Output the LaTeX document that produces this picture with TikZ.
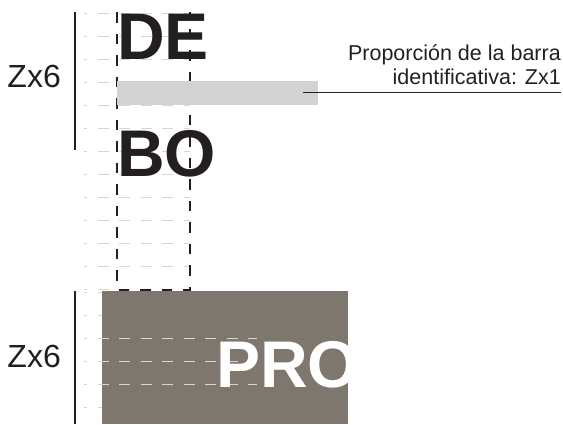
\documentclass[tikz,border=0pt]{standalone}
\usepackage{fontspec}
\setmainfont{Liberation Sans}
\usepackage{tikz}
\usetikzlibrary{positioning,calc}

\definecolor{barragris}{HTML}{D1D3D4}
\definecolor{pardo}{HTML}{7E776D}
\definecolor{guia}{HTML}{D6D6D6}
\definecolor{tinta}{HTML}{231F20}

\begin{document}
\begin{tikzpicture}[
    x=1pt, y=-1pt,
    guideline/.style={draw=guia, line width=1pt, dash pattern=on 11pt off 10.5pt, dash phase=8pt},
    frameline/.style={draw=tinta, line width=1.1pt, dash pattern=on 10.5pt off 11pt},
    rule/.style={draw=tinta, line width=1.2pt},
    word/.style={inner sep=0pt, anchor=base west, font=\fontsize{66}{66}\selectfont\bfseries, text=tinta},
    label/.style={inner sep=0pt, text=tinta, font=\fontsize{32}{32}\selectfont}
]
    \useasboundingbox (0,0) rectangle (563,424);

    % guide grid (upper block)
    \foreach \k in {0,...,12}
        \draw[guideline] (84,{13+23*\k}) -- (190,{13+23*\k});
    \draw[frameline] (117,12) -- (117,290) -- (190,290) -- (190,12);

    % identification bar
    \node[fill=barragris, inner sep=0pt, minimum width=201pt, minimum height=24pt, anchor=north west] (bar) at (117,81) {};
    \coordinate (barend) at (303,92);

    \node[word] (de) at (117,59) {DE};
    \node[word] (bo) at (117,176) {BO};

    % proportion note
    \node[inner sep=0pt, anchor=south east, align=right, text=tinta,
          font=\fontsize{21.5}{24}\selectfont] (note) at (561,85)
          {Proporción de la barra\\identificativa: Zx1};
    \draw[draw=tinta, line width=0.9pt] (barend) -- (barend -| note.east);

    % lower block
    \node[fill=pardo, inner sep=0pt, minimum width=246pt, minimum height=133pt, anchor=north west] (panel) at (102,291) {};
    \foreach \y in {292,315,407}
        \draw[guideline] (84,\y) -- (102,\y);
    \foreach \y in {338,361,384}
        \draw[guideline] (84,\y) -- (257,\y);
    \begin{scope}
        \clip (panel.north west) rectangle (panel.south east);
        \node[word, text=white] (pro) at (216,387) {PRO};
    \end{scope}

    % height marks
    \node[label, anchor=base east] (ztop) at (61,87) {Zx6};
    \node[label, anchor=base east] (zbot) at (61,367) {Zx6};
    \coordinate (ta) at (75,12);
    \coordinate (tb) at (75,150);
    \coordinate (ba) at (75,291);
    \coordinate (bb) at (75,424);
    \draw[rule] (ta) -- (tb);
    \draw[rule] (ba) -- (bb);
\end{tikzpicture}
\end{document}
